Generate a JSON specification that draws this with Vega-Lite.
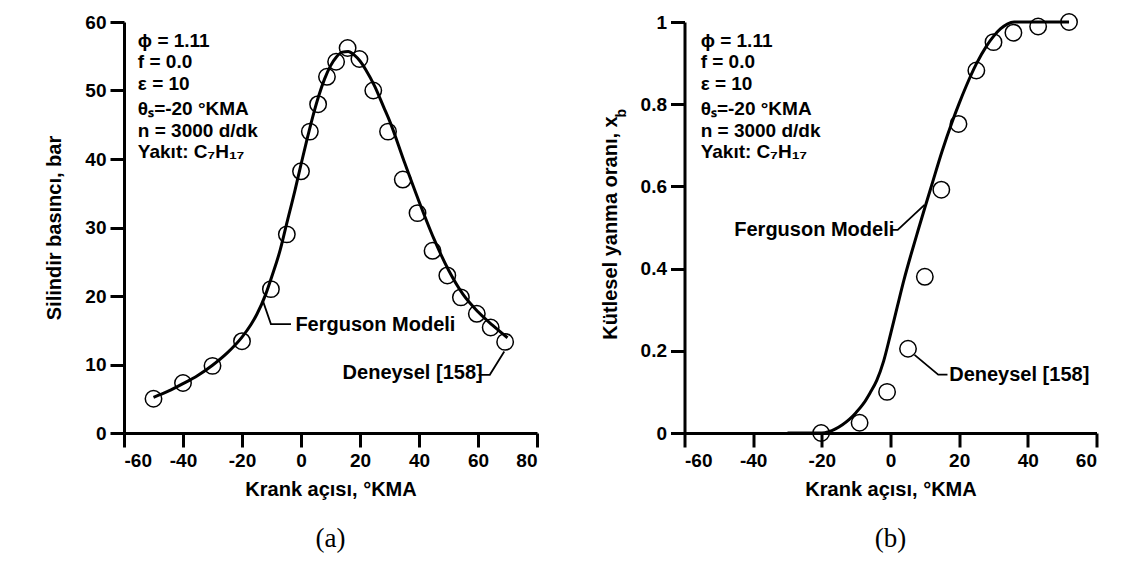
{
  "$schema": "https://vega.github.io/schema/vega-lite/v6.json",
  "padding": {"left": 44, "top": 10, "right": 5, "bottom": 5},
  "spacing": 147.5,
  "bounds": "flush",
  "config": {
    "view": {"stroke": null},
    "font": "Liberation Sans",
    "axis": {
      "domainColor": "black", "domainWidth": 3, "tickColor": "black", "tickWidth": 3, "tickSize": 14,
      "labelPadding": 4, "labelFont": "Liberation Sans", "labelFontSize": 19, "labelFontWeight": "bold", "labelColor": "black",
      "titleFont": "Liberation Sans", "titleFontSize": 20, "titleFontWeight": "bold", "titleColor": "black",
      "grid": false, "labelExpr": "datum.value + ''", "labelOverlap": false
    }
  },
  "datasets": {
    "pModel": [
      {"x": -50, "y": 5.2}, {"x": -45, "y": 6.1}, {"x": -40, "y": 7.2}, {"x": -35, "y": 8.4}, {"x": -30, "y": 9.9},
      {"x": -25, "y": 11.7}, {"x": -20, "y": 14.0}, {"x": -17, "y": 15.8}, {"x": -15, "y": 17.3}, {"x": -12, "y": 20.2},
      {"x": -10, "y": 22.7}, {"x": -7, "y": 26.8}, {"x": -5, "y": 30.3}, {"x": -2, "y": 35.5}, {"x": 0, "y": 39.2},
      {"x": 2, "y": 42.8}, {"x": 4, "y": 46.2}, {"x": 6, "y": 49.2}, {"x": 8, "y": 51.7}, {"x": 10, "y": 53.6},
      {"x": 12, "y": 54.9}, {"x": 14, "y": 55.6}, {"x": 16, "y": 55.7}, {"x": 18, "y": 55.2}, {"x": 20, "y": 54.3},
      {"x": 22, "y": 53.0}, {"x": 25, "y": 50.6}, {"x": 28, "y": 47.6}, {"x": 30, "y": 45.6}, {"x": 35, "y": 39.6},
      {"x": 40, "y": 33.8}, {"x": 45, "y": 28.4}, {"x": 50, "y": 23.8}, {"x": 55, "y": 20.2}, {"x": 60, "y": 17.7},
      {"x": 65, "y": 15.7}, {"x": 70, "y": 13.9}
    ],
    "pExp": [
      {"x": -50, "y": 5.0}, {"x": -40, "y": 7.3}, {"x": -30, "y": 9.8}, {"x": -20, "y": 13.4}, {"x": -10.2, "y": 21.0},
      {"x": -4.8, "y": 29.0}, {"x": 0, "y": 38.2}, {"x": 3, "y": 44.0}, {"x": 5.8, "y": 48.0}, {"x": 8.8, "y": 52.0},
      {"x": 11.9, "y": 54.2}, {"x": 15.8, "y": 56.2}, {"x": 19.8, "y": 54.6}, {"x": 24.5, "y": 50.0}, {"x": 29.5, "y": 44.0},
      {"x": 34.5, "y": 37.0}, {"x": 39.5, "y": 32.1}, {"x": 44.6, "y": 26.6}, {"x": 49.6, "y": 23.0}, {"x": 54.2, "y": 19.8},
      {"x": 59.6, "y": 17.4}, {"x": 64.3, "y": 15.4}, {"x": 69.2, "y": 13.3}
    ],
    "leadA": [
      {"id": "f", "i": 0, "x": -13.0, "y": 19.4}, {"id": "f", "i": 1, "x": -10.2, "y": 15.9}, {"id": "f", "i": 2, "x": -3.4, "y": 15.9},
      {"id": "d", "i": 0, "x": 60.2, "y": 8.5}, {"id": "d", "i": 1, "x": 64.0, "y": 8.5}, {"id": "d", "i": 2, "x": 68.9, "y": 11.9}
    ],
    "labA": [
      {"text": "Ferguson Modeli", "x": -1.9, "y": 15.8},
      {"text": "Deneysel [158]", "x": 14.1, "y": 8.8}
    ],
    "annA": [
      {"text": "ϕ = 1.11", "x": -55.3, "y": 56.4},
      {"text": "f = 0.0", "x": -55.3, "y": 53.3},
      {"text": "ε = 10", "x": -55.3, "y": 50.1},
      {"text": "θₛ=-20 °KMA", "x": -55.3, "y": 46.4},
      {"text": "n = 3000 d/dk", "x": -55.3, "y": 43.2},
      {"text": "Yakıt: C₇H₁₇", "x": -55.3, "y": 40.1}
    ],
    "xbModel": [
      {"x": -30, "y": 0}, {"x": -25, "y": 0}, {"x": -20, "y": 0}, {"x": -18, "y": 0.003}, {"x": -16, "y": 0.01},
      {"x": -14, "y": 0.02}, {"x": -12, "y": 0.033}, {"x": -10, "y": 0.05}, {"x": -8, "y": 0.07}, {"x": -6, "y": 0.097},
      {"x": -4, "y": 0.128}, {"x": -2, "y": 0.175}, {"x": 0, "y": 0.24}, {"x": 2, "y": 0.308}, {"x": 4, "y": 0.375},
      {"x": 6, "y": 0.435}, {"x": 8, "y": 0.492}, {"x": 10, "y": 0.548}, {"x": 12, "y": 0.603}, {"x": 15, "y": 0.685},
      {"x": 18, "y": 0.758}, {"x": 20, "y": 0.802}, {"x": 22, "y": 0.843}, {"x": 25, "y": 0.898}, {"x": 28, "y": 0.942},
      {"x": 30, "y": 0.965}, {"x": 32, "y": 0.983}, {"x": 34, "y": 0.995}, {"x": 36, "y": 1.0}, {"x": 52, "y": 1.0}
    ],
    "xbExp": [
      {"x": -20.2, "y": 0.0}, {"x": -9, "y": 0.025}, {"x": -1, "y": 0.1}, {"x": 5.1, "y": 0.205}, {"x": 10, "y": 0.38},
      {"x": 14.8, "y": 0.592}, {"x": 19.8, "y": 0.752}, {"x": 25, "y": 0.882}, {"x": 30, "y": 0.951}, {"x": 35.8, "y": 0.974},
      {"x": 43, "y": 0.989}, {"x": 52, "y": 1.0}
    ],
    "leadB": [
      {"id": "f", "i": 0, "x": 0.2, "y": 0.494}, {"id": "f", "i": 1, "x": 2.1, "y": 0.494}, {"id": "f", "i": 2, "x": 9.9, "y": 0.555},
      {"id": "d", "i": 0, "x": 7.0, "y": 0.19}, {"id": "d", "i": 1, "x": 13.9, "y": 0.142}, {"id": "d", "i": 2, "x": 16.6, "y": 0.142}
    ],
    "labB": [
      {"text": "Ferguson Modeli", "x": -45.5, "y": 0.494},
      {"text": "Deneysel [158]", "x": 17.1, "y": 0.14}
    ],
    "annB": [
      {"text": "ϕ = 1.11", "x": -55.3, "y": 0.94},
      {"text": "f = 0.0", "x": -55.3, "y": 0.888},
      {"text": "ε = 10", "x": -55.3, "y": 0.835},
      {"text": "θₛ=-20 °KMA", "x": -55.3, "y": 0.774},
      {"text": "n = 3000 d/dk", "x": -55.3, "y": 0.72},
      {"text": "Yakıt: C₇H₁₇", "x": -55.3, "y": 0.669}
    ],
    "subB": [
      {"text": "b", "x": -60, "y": 0.778}
    ]
  },
  "hconcat": [
    {
      "width": 413,
      "height": 411,
      "title": {"text": "(a)", "orient": "bottom", "font": "Liberation Serif", "fontSize": 27, "fontWeight": "normal", "color": "black", "offset": 27, "frame": "group"},
      "layer": [
        {
          "data": {"name": "pModel"},
          "mark": {"type": "line", "color": "black", "strokeWidth": 3, "interpolate": "monotone"},
          "encoding": {
            "x": {"field": "x", "type": "quantitative", "scale": {"domain": [-60, 80], "nice": false, "zero": false},
                  "axis": {"values": [-60, -40, -20, 0, 20, 40, 60, 80], "title": "Krank açısı, °KMA", "titlePadding": 9}},
            "y": {"field": "y", "type": "quantitative", "scale": {"domain": [0, 60], "nice": false},
                  "axis": {"values": [0, 10, 20, 30, 40, 50, 60], "title": "Silindir basıncı, bar", "titlePadding": 20}}
          }
        },
        {
          "data": {"name": "pExp"},
          "mark": {"type": "point", "shape": "circle", "filled": false, "color": "black", "size": 270, "strokeWidth": 1.5, "opacity": 1},
          "encoding": {"x": {"field": "x", "type": "quantitative"}, "y": {"field": "y", "type": "quantitative"}}
        },
        {
          "data": {"name": "leadA"},
          "mark": {"type": "line", "color": "black", "strokeWidth": 1.8},
          "encoding": {"x": {"field": "x", "type": "quantitative"}, "y": {"field": "y", "type": "quantitative"},
                       "detail": {"field": "id"}, "order": {"field": "i", "type": "quantitative"}}
        },
        {
          "data": {"name": "labA"},
          "mark": {"type": "text", "font": "Liberation Sans", "fontSize": 20, "fontWeight": "bold", "color": "black", "align": "left", "baseline": "middle"},
          "encoding": {"x": {"field": "x", "type": "quantitative"}, "y": {"field": "y", "type": "quantitative"}, "text": {"field": "text"}}
        },
        {
          "data": {"name": "annA"},
          "mark": {"type": "text", "font": "Liberation Sans", "fontSize": 19, "fontWeight": "bold", "color": "black", "align": "left", "baseline": "alphabetic"},
          "encoding": {"x": {"field": "x", "type": "quantitative"}, "y": {"field": "y", "type": "quantitative"}, "text": {"field": "text"}}
        }
      ]
    },
    {
      "width": 412,
      "height": 411,
      "title": {"text": "(b)", "orient": "bottom", "font": "Liberation Serif", "fontSize": 27, "fontWeight": "normal", "color": "black", "offset": 27, "frame": "group"},
      "layer": [
        {
          "data": {"name": "xbModel"},
          "mark": {"type": "line", "color": "black", "strokeWidth": 3, "interpolate": "monotone"},
          "encoding": {
            "x": {"field": "x", "type": "quantitative", "scale": {"domain": [-60, 60], "nice": false, "zero": false},
                  "axis": {"values": [-60, -40, -20, 0, 20, 40, 60], "title": "Krank açısı, °KMA", "titlePadding": 9}},
            "y": {"field": "y", "type": "quantitative", "scale": {"domain": [0, 1], "nice": false},
                  "axis": {"values": [0, 0.2, 0.4, 0.6, 0.8, 1], "title": "Kütlesel yanma oranı, x", "titlePadding": 20}}
          }
        },
        {
          "data": {"name": "xbExp"},
          "mark": {"type": "point", "shape": "circle", "filled": false, "color": "black", "size": 270, "strokeWidth": 1.5, "opacity": 1},
          "encoding": {"x": {"field": "x", "type": "quantitative"}, "y": {"field": "y", "type": "quantitative"}}
        },
        {
          "data": {"name": "leadB"},
          "mark": {"type": "line", "color": "black", "strokeWidth": 1.8},
          "encoding": {"x": {"field": "x", "type": "quantitative"}, "y": {"field": "y", "type": "quantitative"},
                       "detail": {"field": "id"}, "order": {"field": "i", "type": "quantitative"}}
        },
        {
          "data": {"name": "labB"},
          "mark": {"type": "text", "font": "Liberation Sans", "fontSize": 20, "fontWeight": "bold", "color": "black", "align": "left", "baseline": "middle"},
          "encoding": {"x": {"field": "x", "type": "quantitative"}, "y": {"field": "y", "type": "quantitative"}, "text": {"field": "text"}}
        },
        {
          "data": {"name": "annB"},
          "mark": {"type": "text", "font": "Liberation Sans", "fontSize": 19, "fontWeight": "bold", "color": "black", "align": "left", "baseline": "alphabetic"},
          "encoding": {"x": {"field": "x", "type": "quantitative"}, "y": {"field": "y", "type": "quantitative"}, "text": {"field": "text"}}
        },
        {
          "data": {"name": "subB"},
          "mark": {"type": "text", "font": "Liberation Sans", "fontSize": 14, "fontWeight": "bold", "color": "black", "align": "center", "baseline": "middle", "angle": 270, "dy": -63},
          "encoding": {"x": {"field": "x", "type": "quantitative"}, "y": {"field": "y", "type": "quantitative"}, "text": {"field": "text"}}
        }
      ]
    }
  ]
}
